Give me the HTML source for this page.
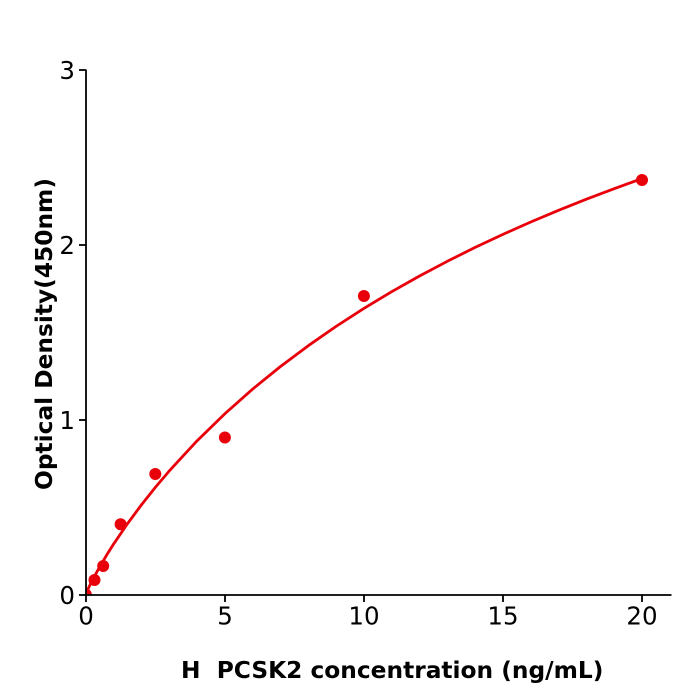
<!DOCTYPE html>
<html>
<head>
<meta charset="utf-8">
<style>
  html, body { margin:0; padding:0; background:#fff; }
  svg { display:block; }
  text { font-family: "DejaVu Sans", "Liberation Sans", sans-serif; fill:#000; }
</style>
</head>
<body>
<svg width="700" height="700" viewBox="0 0 700 700" xmlns="http://www.w3.org/2000/svg">
  <defs>
    <clipPath id="ax">
      <rect x="86" y="40" width="600" height="554.5"/>
    </clipPath>
  </defs>
  <rect x="0" y="0" width="700" height="700" fill="#fff"/>

  <!-- curve -->
  <g clip-path="url(#ax)">
    <polyline fill="none" stroke="#e8000b" stroke-width="2.8" stroke-linejoin="round" stroke-linecap="round"
      points="85.8,594.5 88.58,587.81 92.75,579.39 99.71,566.74 106.66,555.04 113.61,544.06 127.52,523.64 141.42,504.86 155.33,487.36 169.23,470.97 197.04,440.86 224.85,413.74 252.66,389.08 280.47,366.52 308.28,345.70 336.09,326.38 363.9,308.44 391.71,291.70 419.52,276.01 447.33,261.31 475.14,247.39 502.95,234.39 530.76,222.01 558.57,210.29 586.38,199.17 614.19,188.63 642.0,178.58"/>
    <g fill="#e8000b">
      <circle cx="85.8" cy="594.5" r="6"/>
      <circle cx="94.5" cy="580" r="6"/>
      <circle cx="103.2" cy="566" r="6"/>
      <circle cx="120.6" cy="524.3" r="6"/>
      <circle cx="155.3" cy="474" r="6"/>
      <circle cx="224.9" cy="437.5" r="6"/>
      <circle cx="363.9" cy="296" r="6"/>
      <circle cx="642" cy="180" r="6"/>
    </g>
  </g>

  <!-- axes spines -->
  <g stroke="#000" stroke-width="1.8" fill="none">
    <line x1="86" y1="69.5" x2="86" y2="595.5"/>
    <line x1="85" y1="595" x2="671.5" y2="595"/>
    <line x1="79" y1="595" x2="86" y2="595"/>
    <line x1="79" y1="420" x2="86" y2="420"/>
    <line x1="79" y1="245" x2="86" y2="245"/>
    <line x1="79" y1="70" x2="86" y2="70"/>
    <line x1="86" y1="595" x2="86" y2="602"/>
    <line x1="225" y1="595" x2="225" y2="602"/>
    <line x1="364" y1="595" x2="364" y2="602"/>
    <line x1="503" y1="595" x2="503" y2="602"/>
    <line x1="642" y1="595" x2="642" y2="602"/>
  </g>

  <!-- y tick labels -->
  <g font-size="24.5" text-anchor="end">
    <text x="75" y="604">0</text>
    <text x="75" y="429">1</text>
    <text x="75" y="254">2</text>
    <text x="75" y="79">3</text>
  </g>
  <!-- x tick labels -->
  <g font-size="24.5" text-anchor="middle">
    <text x="86" y="624.5">0</text>
    <text x="225" y="624.5">5</text>
    <text x="364" y="624.5">10</text>
    <text x="503" y="624.5">15</text>
    <text x="642" y="624.5">20</text>
  </g>

  <!-- axis labels -->
  <text x="181" y="678" font-size="23.3" font-weight="bold" style="white-space:pre" xml:space="preserve">H  PCSK2 concentration (ng/mL)</text>
  <text transform="translate(52,334) rotate(-90)" text-anchor="middle" font-size="23.3" font-weight="bold">Optical Density(450nm)</text>
</svg>
</body>
</html>
